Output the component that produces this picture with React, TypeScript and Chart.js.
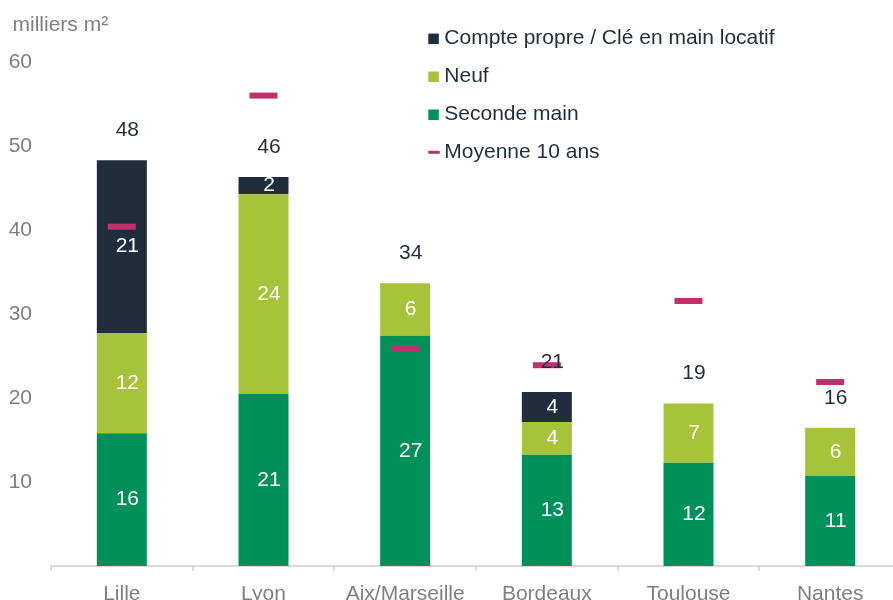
import React, { useEffect, useRef } from "react";
import { Chart, registerables } from "chart.js";

Chart.register(...registerables);

const FONT = '"Liberation Sans", Arial, sans-serif';

const categories = ["Lille", "Lyon", "Aix/Marseille", "Bordeaux", "Toulouse", "Nantes"];
const secondeMain = [15.8, 20.5, 27.4, 13.25, 12.3, 10.7];
const neuf = [11.95, 23.75, 6.25, 3.9, 7.05, 5.75];
const comptePropre: (number | null)[] = [20.55, 2.05, null, 3.55, null, null];
const moyenne10ans = [40.4, 56, 25.95, 23.9, 31.55, 21.9];
const yTicks = [10, 20, 30, 40, 50, 60];
const unitLabel = "milliers m²";
const nameCompte = "Compte propre / Clé en main locatif";
const nameNeuf = "Neuf";
const nameSeconde = "Seconde main";
const nameMoyenne = "Moyenne 10 ans";

const C_DARK = "#1f2d3c";
const C_LIME = "#a6c33a";
const C_GREEN = "#00905a";
const C_MAGENTA = "#c0306f";
const C_GRAY = "#7f7f7f";
const C_AXIS = "#d9d9d9";

const overlayPlugin = {
  id: "overlay",
  afterDatasetsDraw(chart: any) {
    const ctx = chart.ctx;
    ctx.save();
    ctx.font = `21px ${FONT}`;
    ctx.textAlign = "center";
    ctx.textBaseline = "middle";
    const ds = chart.data.datasets;
    const barIdx: number[] = [];
    ds.forEach((d: any, i: number) => {
      if (d.type !== "line") barIdx.push(i);
    });
    barIdx.forEach((i) => {
      const meta = chart.getDatasetMeta(i);
      meta.data.forEach((el: any, j: number) => {
        const v = ds[i].data[j];
        if (v == null || v === 0) return;
        ctx.fillStyle = "#ffffff";
        ctx.fillText(String(Math.round(v)), el.x + 5.5, (el.y + el.base) / 2);
      });
    });
    categories.forEach((_c, j) => {
      let total = 0;
      let topY = Infinity;
      let x = 0;
      barIdx.forEach((i) => {
        const v = ds[i].data[j];
        if (v == null || v === 0) return;
        total += v;
        const el = chart.getDatasetMeta(i).data[j];
        topY = Math.min(topY, el.y);
        x = el.x;
      });
      ctx.fillStyle = C_DARK;
      ctx.fillText(String(Math.round(total)), x + 5.5, topY - 30);
    });
    ctx.restore();
  },
  afterDraw(chart: any) {
    const ctx = chart.ctx;
    ctx.save();
    ctx.font = `21px ${FONT}`;
    ctx.textBaseline = "middle";
    ctx.textAlign = "left";
    ctx.fillStyle = C_GRAY;
    ctx.fillText(unitLabel, 12.5, 25.4);

    const items = [
      { label: nameCompte, color: C_DARK, kind: "box" },
      { label: nameNeuf, color: C_LIME, kind: "box" },
      { label: nameSeconde, color: C_GREEN, kind: "box" },
      { label: nameMoyenne, color: C_MAGENTA, kind: "line" },
    ];
    items.forEach((it, k) => {
      const cy = 38 + k * 38;
      ctx.fillStyle = it.color;
      if (it.kind === "box") {
        ctx.fillRect(428.3, cy + 0.8 - 5.25, 10.5, 10.5);
      } else {
        ctx.fillRect(428.3, cy - 1.2, 11.5, 3);
      }
      ctx.fillStyle = C_DARK;
      ctx.fillText(it.label, 444.3, cy);
    });
    ctx.restore();
  },
};

export default function App() {
  const ref = useRef<HTMLCanvasElement | null>(null);

  useEffect(() => {
    if (!ref.current) return;
    const chart = new Chart(ref.current, {
      type: "bar",
      data: {
        labels: categories,
        datasets: [
          {
            type: "line",
            label: nameMoyenne,
            data: moyenne10ans,
            showLine: false,
            pointStyle: "line",
            pointRadius: 14,
            pointHoverRadius: 14,
            pointBorderWidth: 6,
            pointHoverBorderWidth: 6,
            borderColor: C_MAGENTA,
            backgroundColor: C_MAGENTA,
            pointBorderColor: C_MAGENTA,
            stack: "avg",
            order: 0,
          } as any,
          {
            type: "bar",
            label: nameSeconde,
            data: secondeMain,
            backgroundColor: C_GREEN,
            stack: "s",
            order: 1,
            barPercentage: 0.353,
            categoryPercentage: 1,
          },
          {
            type: "bar",
            label: nameNeuf,
            data: neuf,
            backgroundColor: C_LIME,
            stack: "s",
            order: 1,
            barPercentage: 0.353,
            categoryPercentage: 1,
          },
          {
            type: "bar",
            label: nameCompte,
            data: comptePropre,
            backgroundColor: C_DARK,
            stack: "s",
            order: 1,
            barPercentage: 0.353,
            categoryPercentage: 1,
          },
        ],
      },
      options: {
        animation: false,
        responsive: false,
        devicePixelRatio: 1,
        layout: { autoPadding: false, padding: { top: 62, right: 0, bottom: 0, left: 0 } },
        plugins: {
          legend: { display: false },
          tooltip: { enabled: false },
          title: { display: false },
        },
        scales: {
          x: {
            stacked: true,
            offset: true,
            grid: {
              display: true,
              offset: true,
              drawOnChartArea: false,
              drawTicks: true,
              tickLength: 5,
              color: C_AXIS,
              lineWidth: 2,
            },
            border: { display: true, color: C_AXIS, width: 2 },
            ticks: {
              font: { family: FONT, size: 21 },
              color: C_GRAY,
              padding: 11,
              maxRotation: 0,
              autoSkip: false,
            },
            afterFit: (s: any) => {
              s.height = 34;
              s.paddingLeft = 0;
              s.paddingRight = 0;
            },
          },
          y: {
            stacked: true,
            min: 0,
            max: 60,
            grid: { display: false, drawTicks: false },
            border: { display: false },
            ticks: {
              font: { family: FONT, size: 21 },
              color: C_GRAY,
              padding: 19,
            },
            afterBuildTicks: (s: any) => {
              s.ticks = yTicks.map((v) => ({ value: v }));
            },
            afterFit: (s: any) => {
              s.width = 51;
              s.paddingTop = 0;
              s.paddingBottom = 0;
            },
          },
        },
      } as any,
      plugins: [overlayPlugin],
    });
    return () => chart.destroy();
  }, []);

  return (
    <div
      style={{
        position: "fixed",
        left: 0,
        top: 0,
        width: 893,
        height: 600,
        overflow: "hidden",
        background: "#ffffff",
      }}
    >
      <canvas ref={ref} width={901} height={600} style={{ display: "block", width: 901, height: 600 }} />
    </div>
  );
}
